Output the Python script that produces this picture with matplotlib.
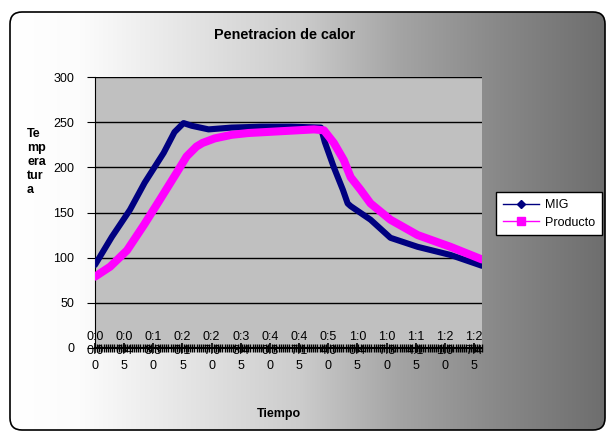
import numpy as np
import matplotlib
matplotlib.use("Agg")
from matplotlib import pyplot as plt
from matplotlib.patches import FancyBboxPatch
from matplotlib.lines import Line2D
from matplotlib.ticker import MultipleLocator, FixedLocator

plt.rcParams['font.family'] = ['Liberation Sans', 'DejaVu Sans']

# tiempo en minutos, temperatura
mig_t = [0, 3.9, 8.1, 11.5, 15.9, 18.4, 20.5, 22.4, 26.3, 31.6, 38.5, 45.4,
         52.3, 53.2, 55.3, 57.4, 58.5, 59.2, 63.8, 68.4, 74.7, 82.3, 89.6]
mig_temp = [92, 123, 153, 183, 216, 239, 249, 246, 242, 244, 245, 245,
            244, 228, 200, 175, 160, 157, 142, 122, 112, 103, 91]

prod_t = [0, 3.5, 7.4, 11.3, 15.0, 18.9, 21.2, 23.5, 24.9, 27.7, 31.6, 35.5,
          43.1, 50.7, 53.0, 55.3, 57.6, 59.2, 61.5, 63.8, 68.4, 74.7, 82.3, 89.6]
prod_temp = [79, 90, 108, 136, 164, 194, 212, 223, 227, 232, 236, 238,
             240, 242, 241, 227, 208, 189, 175, 160, 142, 125, 112, 98]

# etiquetas cada 6:45
label_times = [i * 6.75 for i in range(14)]


def fmt_time(t):
    s = int(round(t * 60))
    txt = "%d:%02d:%02d" % (s // 3600, (s % 3600) // 60, s % 60)
    return "\n".join(txt[i:i + 3] for i in range(0, len(txt), 3))


W, H = 607, 432
fig = plt.figure(figsize=(W / 100, H / 100), dpi=100)

# fondo con degradado y borde redondeado
bg = fig.add_axes([0, 0, 1, 1], zorder=-10)
bg.axis('off')
box = FancyBboxPatch((10, 12), 595, 418, boxstyle="round,pad=0,rounding_size=12",
                     facecolor='none', edgecolor='black', linewidth=1.2, zorder=3)
bg.add_patch(box)
xs = np.linspace(10, 605, 600)
g = np.interp(xs, [10, 80, 200, 300, 350, 400, 500, 605],
              [255, 252, 226, 204, 184, 164, 136, 110]) / 255.0
img = np.dstack([g, g, g]).repeat(2, axis=0)
im = bg.imshow(img, extent=(10, 605, 430, 12), aspect='auto', zorder=1)
im.set_clip_path(box)
bg.set_xlim(0, W)
bg.set_ylim(H, 0)

fig.text(285 / W, 1 - 35 / H, "Penetracion de calor", ha='center', va='center',
         fontsize=10.4, fontweight='bold')

ax = fig.add_axes([95 / W, (H - 348) / H, 387 / W, 271 / H])
ax.set_facecolor('#C0C0C0')
ax.plot(mig_t, mig_temp, color='#000080', lw=4.4, solid_capstyle='round',
        solid_joinstyle='round', zorder=3)
ax.plot(prod_t, prod_temp, color='#FF00FF', lw=5.8, solid_capstyle='round',
        solid_joinstyle='round', zorder=4)

ax.set_xlim(0, 89.6)
ax.set_ylim(0, 300)
ax.yaxis.set_major_locator(MultipleLocator(50))
ax.grid(axis='y', color='black', lw=1)
for s in ['top', 'right']:
    ax.spines[s].set_visible(False)
ax.spines['left'].set_color('black')
ax.spines['bottom'].set_linewidth(1.5)

ax.tick_params(axis='y', direction='out', length=6, pad=9, labelsize=9)
ax.xaxis.set_major_locator(FixedLocator(label_times))
ax.set_xticklabels([fmt_time(t) for t in label_times], fontsize=9, linespacing=1.3)
ax.xaxis.set_minor_locator(MultipleLocator(0.5))
ax.tick_params(axis='x', which='major', direction='inout', length=7, width=1.2, pad=-16)
ax.tick_params(axis='x', which='minor', direction='inout', length=6, width=1)

ax.set_xlabel("Tiempo", fontsize=9, fontweight='bold')
ax.xaxis.set_label_coords((279 - 95) / 387, (348 - 408) / 271)
ax.set_ylabel("Te\nmp\nera\ntur\na", fontsize=9, fontweight='bold', rotation=0,
              ha='left', va='center', multialignment='left')
ax.yaxis.set_label_coords((27 - 95) / 387, (348 - 162) / 271)

handles = [Line2D([], [], color='#000080', lw=1, marker='D', ms=4.5),
           Line2D([], [], color='#FF00FF', lw=1, marker='s', ms=5.5)]
leg = fig.legend(handles, ["MIG", "Producto"], loc='upper left',
                 bbox_to_anchor=(496 / W, 1 - 192 / H), fontsize=9, frameon=True,
                 fancybox=False, edgecolor='black', framealpha=1,
                 handlelength=2.9, borderpad=0.55, labelspacing=0.45,
                 handletextpad=0.45, borderaxespad=0)
leg.get_frame().set_linewidth(1)

fig.savefig("out.png", dpi=100)
